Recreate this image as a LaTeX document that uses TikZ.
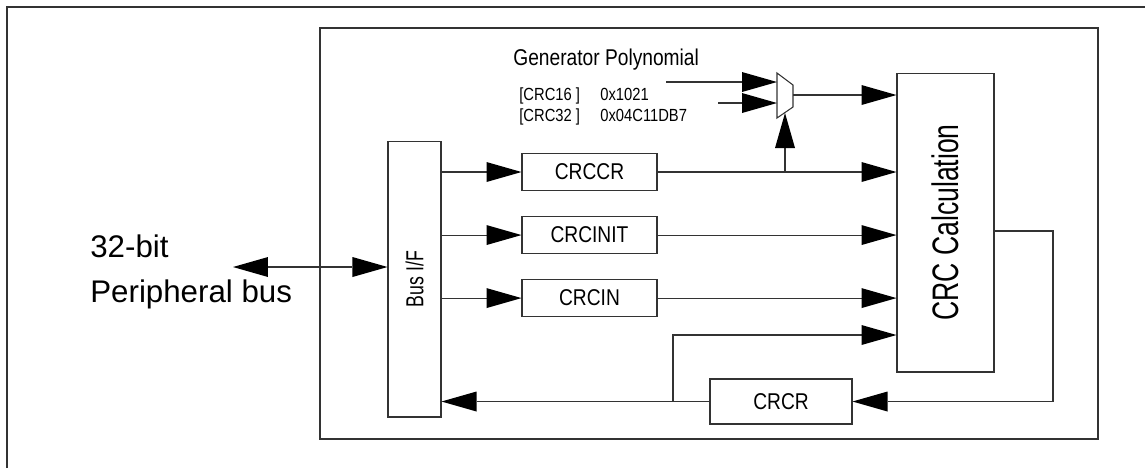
\documentclass[tikz,border=0pt]{standalone}
\usepackage{fontspec}
\setmainfont{Liberation Sans}
\newfontfamily\narrowfont{Liberation Sans}[FakeStretch=0.84]
\newfontfamily\tallfont{Liberation Sans}[FakeStretch=0.72]
\usetikzlibrary{positioning, arrows.meta}
\tikzset{
    >={Triangle[length=0.7cm, width=0.4cm, fill=black, line width=0pt]}, % big filled heads as in the data sheet
    wire/.style={draw=black!80, line width=0.6pt},
    block/.style={wire, fill=white, inner sep=0pt, minimum width=2.7cm, minimum height=0.74cm,
        font=\narrowfont\fontsize{13pt}{15pt}\selectfont}, % register boxes
    txt/.style={inner sep=0pt, anchor=base west, font=\narrowfont\fontsize{10pt}{12pt}\selectfont}
}

\begin{document}
\begin{tikzpicture}[x=0.02cm, y=-0.02cm]
    \useasboundingbox (0,0) rectangle (1145,468);
    \draw[wire] (7,468) -- (7,7) -- (1145,7); % outer frame
    \draw[wire] (320,28) rectangle (1098,439); % CRC module

    \node[block, minimum width=1.06cm, minimum height=5.52cm, font=\tallfont\fontsize{14pt}{16pt}\selectfont] (busif) at (414.5,279) {\rotatebox{90}{Bus I/F}};
    \node[block] (crccr) at (589.5,172) {CRCCR};
    \node[block] (crcinit) [below=0.5cm of crccr] {CRCINIT};
    \node[block] (crcin) [below=0.5cm of crcinit] {CRCIN};
    \node[block, minimum width=1.94cm, minimum height=5.98cm, font=\tallfont\fontsize{21pt}{23pt}\selectfont] (crccalc) at (945.5,222.5) {\rotatebox{90}{CRC Calculation}};
    \node[block, minimum width=2.84cm, minimum height=0.9cm] (crcr) at (781,401.5) {CRCR};

    % generator polynomial select
    \coordinate (mux1) at (777,73);
    \coordinate (mux2) at (793,85);
    \coordinate (mux3) at (793,107);
    \coordinate (mux4) at (777,118);
    \draw[wire, fill=white] (mux1) -- (mux2) -- (mux3) -- (mux4) -- cycle;
    \coordinate (g16) at (666,82);
    \coordinate (g32) at (718,103);
    \coordinate (muxout) at (793,95);
    \coordinate (sel) at (785,113);

    \node[txt, font=\narrowfont\fontsize{13pt}{15pt}\selectfont] (genpoly) at (513,65) {Generator Polynomial};
    \node[txt] (crc16) at (519,100) {[CRC16 ]};
    \node[txt] (val16) at (600,100) {0x1021};
    \node[txt] (crc32) at (519,121) {[CRC32 ]};
    \node[txt] (val32) at (600,121) {0x04C11DB7};

    \node[txt, font=\fontsize{17.8pt}{20pt}\selectfont] (bits) at (90,257) {32-bit};
    \node[txt, font=\fontsize{17.8pt}{20pt}\selectfont] (perbus) at (90,302) {Peripheral bus};

    \coordinate (bus) at (233,267);
    \draw[wire, <->] (bus) -- (bus -| busif.west);

    \draw[wire, ->] (g16) -- (g16 -| mux1);
    \draw[wire, ->] (g32) -- (g32 -| mux1);
    \draw[wire, ->] (muxout) -- (muxout -| crccalc.west);
    \draw[wire, ->] (sel |- crccr.east) -- (sel);

    \draw[wire, ->] (busif.east |- crccr) -- (crccr.west);
    \draw[wire, ->] (busif.east |- crcinit) -- (crcinit.west);
    \draw[wire, ->] (busif.east |- crcin) -- (crcin.west);
    \draw[wire, ->] (crccr.east) -- (crccr.east -| crccalc.west);
    \draw[wire, ->] (crcinit.east) -- (crcinit.east -| crccalc.west);
    \draw[wire, ->] (crcin.east) -- (crcin.east -| crccalc.west);

    % result back to the bus
    \coordinate (turn) at (1053,231);
    \coordinate (tap) at (673,335);
    \draw[wire, ->] (turn -| crccalc.east) -- (turn) |- (crcr.east);
    \draw[wire, ->] (crcr.west) -- (crcr.west -| busif.east);
    \draw[wire, ->] (tap |- crcr.west) |- (tap -| crccalc.west);
\end{tikzpicture}
\end{document}
